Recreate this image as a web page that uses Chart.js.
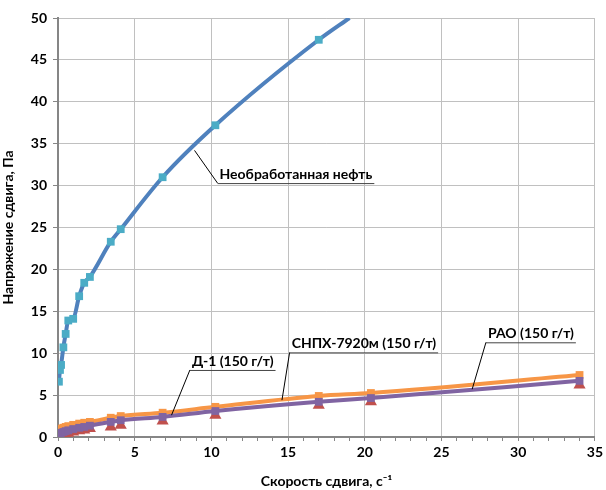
<!DOCTYPE html>
<html>
<head>
<meta charset="utf-8">
<script src="https://cdn.jsdelivr.net/npm/chart.js@4"></script>
<style>
  html, body { margin: 0; padding: 0; background: #fff; }
  #wrap { width: 606px; height: 490px; }
</style>
</head>
<body>
<div id="wrap"><canvas id="rheo"></canvas></div>
<script>
// shear rate (1/s) and shear stress (Pa)
const crudeRate   = [0.06, 0.13, 0.2, 0.35, 0.5, 0.67, 0.99, 1.38, 1.71, 2.08, 3.44, 4.09, 6.82, 10.26, 17.0];
const crudeStress = [6.6, 8.0, 8.6, 10.7, 12.3, 13.9, 14.1, 16.8, 18.4, 19.1, 23.3, 24.8, 31.0, 37.2, 47.4];
// where the fitted curve leaves the top of the plot
const crudeCurveEnd = { x: 19.0, y: 50.0 };

const treatedRate = [0.06, 0.13, 0.2, 0.35, 0.5, 0.67, 0.99, 1.38, 1.71, 2.08, 3.44, 4.09, 6.82, 10.26, 17.0, 20.4, 34.0];
const snpxStress  = [0.8, 0.9, 1.0, 1.1, 1.2, 1.3, 1.45, 1.6, 1.7, 1.8, 2.3, 2.5, 2.9, 3.6, 4.9, 5.25, 7.4];
const d1Stress    = [0.3, 0.4, 0.5, 0.6, 0.7, 0.8, 0.95, 1.1, 1.2, 1.35, 1.8, 2.0, 2.4, 3.1, 4.2, 4.65, 6.7];
const paoStress   = [0.05, 0.1, 0.15, 0.25, 0.35, 0.45, 0.6, 0.75, 0.85, 1.0, 1.2, 1.4, 1.9, 2.6, 3.8, 4.2, 6.2];

const seriesNames = ['Необработанная нефть', 'Д-1 (150 г/т)', 'СНПХ-7920м (150 г/т)', 'РАО (150 г/т)'];

const pts = (xs, ys) => xs.map((x, i) => ({ x, y: ys[i] }));

// callouts: text, point on the curve, left end of the underline (data units)
const callouts = [
    { text: seriesNames[0], at: [8.9, 34.2], shelf: [10.4, 30.3] },
    { text: seriesNames[1], at: [7.4, 2.6],  shelf: [8.6, 8.0] },
    { text: seriesNames[2], at: [14.6, 4.4], shelf: [15.1, 10.1] },
    { text: seriesNames[3], at: [27.0, 5.7], shelf: [27.9, 11.3] },
];

const FONT = 'Lato, "Liberation Sans", sans-serif';

const calloutPlugin = {
    id: 'callouts',
    afterDatasetsDraw(chart) {
        const { ctx, scales: { x, y } } = chart;
        ctx.save();
        ctx.font = 'bold 14px ' + FONT;
        ctx.textBaseline = 'alphabetic';
        ctx.fillStyle = '#000';
        callouts.forEach(c => {
            const ax = x.getPixelForValue(c.at[0]), ay = y.getPixelForValue(c.at[1]);
            const sx = x.getPixelForValue(c.shelf[0]), sy = y.getPixelForValue(c.shelf[1]);
            const w = ctx.measureText(c.text).width;
            ctx.strokeStyle = '#000';
            ctx.lineWidth = 1;
            ctx.beginPath();
            ctx.moveTo(ax, ay);
            ctx.lineTo(sx, sy);
            ctx.stroke();
            ctx.strokeStyle = '#444';
            ctx.beginPath();
            ctx.moveTo(sx, sy + 0.5);
            ctx.lineTo(sx + w + 4, sy + 0.5);
            ctx.stroke();
            ctx.fillText(c.text, sx + 2, sy - 4);
        });
        ctx.restore();
    }
};

new Chart(document.getElementById('rheo'), {
    type: 'scatter',
    plugins: [calloutPlugin],
    data: {
        datasets: [
            {
                label: seriesNames[1],
                data: pts(treatedRate, d1Stress),
                showLine: true,
                borderColor: '#8064a2',
                backgroundColor: '#8064a2',
                borderWidth: 4,
                pointStyle: 'rect',
                pointRadius: 5.5,
                pointBorderWidth: 0,
                cubicInterpolationMode: 'monotone',
            },
            {
                label: seriesNames[2],
                data: pts(treatedRate, snpxStress),
                showLine: true,
                borderColor: '#f79646',
                backgroundColor: '#f79646',
                borderWidth: 4,
                pointStyle: 'rect',
                pointRadius: 5.5,
                pointBorderWidth: 0,
                cubicInterpolationMode: 'monotone',
            },
            {
                label: seriesNames[3],
                data: pts(treatedRate, paoStress),
                showLine: false,
                borderColor: '#c0504d',
                backgroundColor: '#c0504d',
                pointStyle: 'triangle',
                pointRadius: 7,
                pointBorderWidth: 0,
            },
            {
                label: seriesNames[0],
                data: pts(crudeRate, crudeStress),
                showLine: false,
                backgroundColor: '#4bacc6',
                borderColor: '#4bacc6',
                pointStyle: 'rect',
                pointRadius: 5.5,
                pointBorderWidth: 0,
            },
            {
                label: seriesNames[0] + ' (curve)',
                data: pts(crudeRate, crudeStress).concat([crudeCurveEnd]),
                showLine: true,
                borderColor: '#4f81bd',
                borderWidth: 4,
                pointRadius: 0,
                cubicInterpolationMode: 'monotone',
            },
        ]
    },
    options: {
        responsive: true,
        maintainAspectRatio: false,
        animation: false,
        layout: { padding: { top: 18, right: 9, left: 0, bottom: 0 } },
        plugins: {
            legend: { display: false },
            tooltip: { enabled: false },
        },
        scales: {
            x: {
                type: 'linear',
                min: 0,
                max: 35,
                afterFit: s => { s.height = 53; },
                ticks: {
                    stepSize: 1,
                    autoSkip: false,
                    maxRotation: 0,
                    color: '#000',
                    font: { family: FONT, size: 14, weight: 'bold' },
                    callback: v => (v % 5 === 0 ? v : ''),
                },
                grid: {
                    color: c => (c.tick && c.tick.value % 5 === 0 ? '#c0c0c0' : 'rgba(0,0,0,0)'),
                    tickColor: '#868686',
                    tickLength: 4,
                },
                border: { color: '#868686', width: 2 },
                title: {
                    display: true,
                    text: 'Скорость сдвига, с⁻¹',
                    color: '#000',
                    font: { family: FONT, size: 14, weight: 'bold' },
                    padding: { top: 4, bottom: 0 },
                },
            },
            y: {
                min: 0,
                max: 50,
                afterFit: s => { s.width = 58; },
                ticks: {
                    stepSize: 5,
                    color: '#000',
                    font: { family: FONT, size: 14, weight: 'bold' },
                    padding: 6,
                },
                grid: { color: '#c0c0c0', tickColor: '#868686', tickLength: 5 },
                border: { color: '#868686', width: 2 },
                title: {
                    display: true,
                    text: 'Напряжение сдвига, Па',
                    color: '#000',
                    font: { family: FONT, size: 14, weight: 'bold' },
                    padding: { top: 0, bottom: 2 },
                },
            }
        }
    }
});
</script>
</body>
</html>
